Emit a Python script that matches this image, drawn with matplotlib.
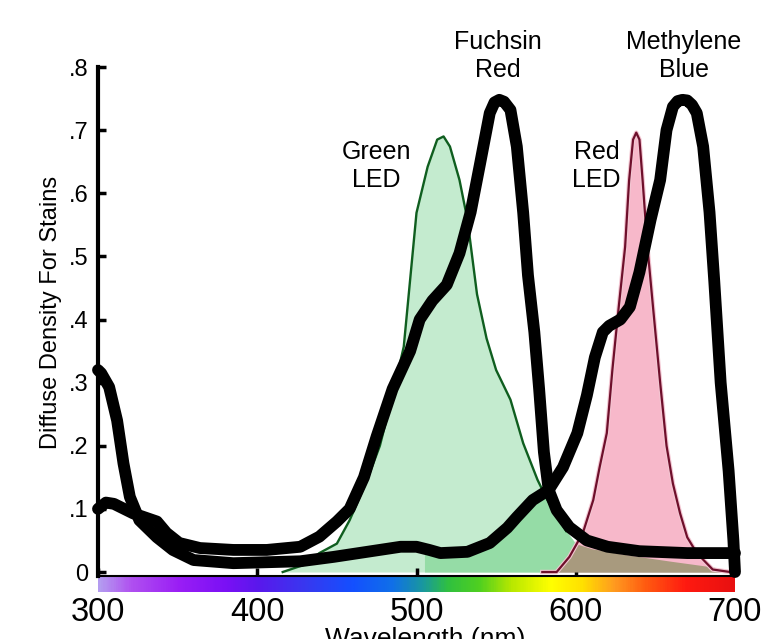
import numpy as np
import matplotlib
matplotlib.use("Agg")
import matplotlib.pyplot as plt
from matplotlib.colors import LinearSegmentedColormap

plt.rcParams['font.family'] = ['Liberation Sans', 'DejaVu Sans']

# ---------------- data ----------------
# Fuchsin Red absorbance (diffuse density)
fuchsin_nm = [300, 305, 310, 322, 337, 343, 351, 364, 385, 406, 427, 439, 450, 458, 467,
              475, 485, 496, 502, 510, 519, 527, 534, 540, 546, 549, 552, 555, 559, 563,
              567, 570, 574, 577, 580, 583, 588, 596, 607, 620, 640, 670, 700]
fuchsin_val = [0.10, 0.11, 0.108, 0.093, 0.08, 0.062, 0.046, 0.038, 0.035, 0.035, 0.04, 0.056,
               0.08, 0.10, 0.15, 0.215, 0.29, 0.35, 0.40, 0.43, 0.455, 0.505, 0.57, 0.648,
               0.727, 0.744, 0.748, 0.745, 0.732, 0.674, 0.569, 0.47, 0.38, 0.29, 0.19, 0.13,
               0.098, 0.071, 0.05, 0.04, 0.033, 0.03, 0.03]

# Methylene Blue absorbance
methylene_nm = [300, 302, 307, 312, 316, 320, 326, 337, 347, 360, 385, 427, 448, 469, 490,
                500, 508, 515, 532, 546, 557, 563, 573, 583, 592, 601, 607, 612, 617, 621,
                628, 634, 640, 647, 653, 657, 661, 664, 667, 670, 673, 676, 680, 684, 687,
                691, 696, 699, 700]
methylene_val = [0.32, 0.315, 0.293, 0.24, 0.172, 0.119, 0.082, 0.055, 0.035, 0.019, 0.014,
                 0.017, 0.024, 0.032, 0.04, 0.04, 0.035, 0.03, 0.032, 0.046, 0.07, 0.087,
                 0.114, 0.13, 0.166, 0.22, 0.28, 0.34, 0.38, 0.39, 0.40, 0.42, 0.475, 0.558,
                 0.621, 0.70, 0.737, 0.746, 0.748, 0.747, 0.74, 0.727, 0.674, 0.57, 0.46,
                 0.30, 0.16, 0.05, 0.0]

# Green LED emission (scaled)
green_nm = [416, 430, 439, 450, 458, 469, 477, 485, 492, 496, 500, 507, 513, 517, 521, 527,
            532, 538, 544, 550, 559, 567, 576, 582, 588, 594, 600, 610, 630, 660, 686, 700]
green_val = [0.0, 0.012, 0.03, 0.045, 0.082, 0.146, 0.20, 0.28, 0.357, 0.463, 0.569, 0.642,
             0.685, 0.69, 0.674, 0.621, 0.558, 0.44, 0.37, 0.32, 0.273, 0.204, 0.146, 0.115,
             0.09, 0.065, 0.045, 0.037, 0.028, 0.017, 0.008, 0.0]

# Red LED emission (scaled)
red_nm = [579, 588, 596, 604.5, 611, 615, 619.5, 623, 627, 631, 633.5, 636, 638, 640, 642,
          645, 648.5, 653, 657, 661, 665.5, 670, 676, 686, 697]
red_val = [0.0, 0.0, 0.024, 0.062, 0.114, 0.166, 0.22, 0.32, 0.42, 0.515, 0.62, 0.685, 0.696,
           0.685, 0.62, 0.515, 0.42, 0.30, 0.20, 0.14, 0.093, 0.055, 0.03, 0.004, 0.0]

x_ticks = [300, 400, 500, 600, 700]
x_ticklabels = ['300', '400', '500', '600', '700']
y_ticks = [0, 0.1, 0.2, 0.3, 0.4, 0.5, 0.6, 0.7, 0.8]
y_ticklabels = ['0', '.1', '.2', '.3', '.4', '.5', '.6', '.7', '.8']

# visible-spectrum colour bar stops
spec_nm = [300, 320, 350, 380, 400, 430, 460, 485, 505, 520, 540, 560, 585, 605, 625, 645, 670, 700]
spec_colors = ['#b49cf0', '#b050f0', '#9a1ef5', '#7a10f5', '#5a18ec', '#3838f0', '#1450ff',
               '#1070e8', '#1a9a9a', '#30c040', '#50d020', '#b8e800', '#ffff00', '#ffe000',
               '#ff9a20', '#ff5a10', '#ff1a10', '#e81010']

# ---------------- figure ----------------
W, H = 762, 639
fig = plt.figure(figsize=(W / 100, H / 100), dpi=100)
ax = fig.add_axes([98 / W, 63 / H, 637 / W, 509 / H])
ax.set_zorder(2)
ax.set_xlim(300, 700)
ax.set_ylim(-0.0063, 0.8)

# common grid for fills
xg = np.linspace(300, 700, 2001)
g_i = np.interp(xg, green_nm, green_val, left=0, right=0)
m_i = np.interp(xg, methylene_nm, methylene_val)
r_i = np.interp(xg, red_nm, red_val, left=0, right=0)
g_in = (xg >= green_nm[0])

# LED fills
ax.fill_between(xg, 0, g_i, where=g_in, color='#c4ebcf', lw=0, zorder=1)
dark = np.minimum(g_i, m_i)
ax.fill_between(xg, 0, dark, where=(xg >= 505), color='#95dca6', lw=0, zorder=1.2)
ax.fill_between(xg, 0, r_i, where=(xg >= red_nm[0]) & (xg <= red_nm[-1]),
                color='#f7b8ca', lw=0, zorder=1.4)
olive = np.minimum(g_i, r_i)
ax.fill_between(xg, 0, olive, where=(xg >= red_nm[0]) & (xg <= red_nm[-1]),
                color='#a89a7e', lw=0, zorder=1.6)

# LED outlines
gn = np.array(green_nm)
gv = np.array(green_val)
sel = gn <= 594
ax.plot(gn[sel], gv[sel], color='#0f5e1f', lw=1.7, zorder=2)
ax.plot(red_nm, red_val, color='#f3c6d2', lw=3.2, zorder=2)
ax.plot(red_nm, red_val, color='#6e0f2b', lw=1.6, zorder=2.1)

# stain absorbance curves
for xs, ys in ((fuchsin_nm, fuchsin_val), (methylene_nm, methylene_val)):
    ax.plot(xs, ys, color='black', lw=8.5, solid_capstyle='round',
            solid_joinstyle='round', zorder=3, clip_on=False)

# axes styling
for s in ('top', 'right'):
    ax.spines[s].set_visible(False)
ax.spines['left'].set_linewidth(3.0)
ax.spines['bottom'].set_linewidth(1.5)
ax.spines['left'].set_zorder(4)
ax.spines['bottom'].set_zorder(4)
ax.set_xticks(x_ticks)
ax.set_xticklabels(x_ticklabels)
ax.set_yticks(y_ticks)
ax.set_yticklabels(y_ticklabels)
ax.tick_params(axis='x', direction='in', length=6, width=2.5, labelsize=23.5, pad=15)
ax.tick_params(axis='y', direction='in', length=6, width=2.5, labelsize=17, pad=7)
ax.patch.set_alpha(0)

# annotations
ax.text(551, 0.817, 'Fuchsin\nRed', ha='center', va='center', fontsize=18)
ax.text(668, 0.817, 'Methylene\nBlue', ha='center', va='center', fontsize=18)
ax.text(475, 0.643, 'Green\nLED', ha='center', va='center', fontsize=18)
ax.text(613, 0.643, 'Red\nLED', ha='center', va='center', fontsize=18)

# spectrum bar below the axis
bar = fig.add_axes([98 / W, (H - 592) / H, 637 / W, 15 / H])
bar.set_zorder(1)
pos = [(v - spec_nm[0]) / (spec_nm[-1] - spec_nm[0]) for v in spec_nm]
cmap = LinearSegmentedColormap.from_list('spec', list(zip(pos, spec_colors)))
bar.imshow(np.linspace(0, 1, 600)[None, :], cmap=cmap, aspect='auto',
           extent=[300, 700, 0, 1], interpolation='bilinear')
bar.set_axis_off()

# axis titles
fig.text(51 / W, 1 - 312 / H, 'Diffuse Density For Stains', rotation=90,
         ha='center', va='center', fontsize=17)
fig.text(425 / W, 1 - 627 / H, 'Wavelength (nm)', ha='center', va='top', fontsize=19)

fig.savefig('out.png', dpi=100)
